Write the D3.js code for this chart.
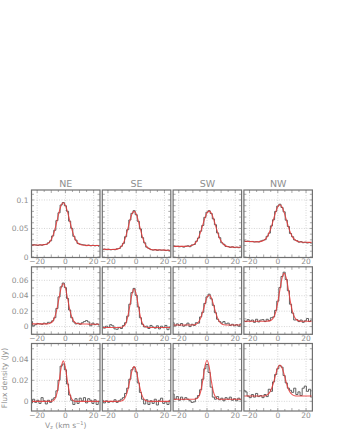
<!DOCTYPE html>
<html>
<head>
<meta charset="utf-8">
<script src="https://cdn.jsdelivr.net/npm/d3@7"></script>
<style>
body{margin:0;background:#fff;}
#canvas{width:342px;height:443px;}
svg{display:block;font-family:"DejaVu Sans",sans-serif;}
</style>
</head>
<body>
<div id="canvas" class="canvas"></div>
<script>
// regions along the top, velocity channels (km/s)
var regions = ['NE','SE','SW','NW'];
var vel = [-24,-22.5,-21,-19.5,-18,-16.5,-15,-13.5,-12,-10.5,-9,-7.5,-6,-4.5,-3,-1.5,0,1.5,3,4.5,6,7.5,9,10.5,12,13.5,15,16.5,18,19.5,21,22.5,24];

var xTicks = [-20,0,20];
var yTicks = [[0,0.05,0.1],[0,0.02,0.04,0.06],[0,0.02,0.04]];
var yDomains = [[-0.001,0.1175],[-0.010,0.0775],[-0.0092,0.055]];

// row 1
var neObs1 = [0.0205,0.0215,0.021,0.0202,0.0212,0.0206,0.0218,0.0221,0.0248,0.0282,0.0368,0.0468,0.0638,0.0775,0.0912,0.0955,0.0898,0.0802,0.0628,0.0502,0.0362,0.0295,0.0235,0.0225,0.0215,0.021,0.0198,0.0208,0.0196,0.0205,0.0195,0.0202,0.0188];
var neFit1 = [0.021,0.021,0.021,0.021,0.021,0.0211,0.0214,0.0223,0.0242,0.0285,0.036,0.0476,0.0627,0.0784,0.0904,0.095,0.0906,0.079,0.064,0.0492,0.037,0.0288,0.024,0.0218,0.0208,0.0204,0.0203,0.0202,0.0201,0.0201,0.020,0.020,0.020];
var seObs1 = [0.013,0.0138,0.0128,0.0135,0.0125,0.0132,0.0127,0.0142,0.0148,0.0188,0.0238,0.0355,0.0478,0.0648,0.0765,0.0812,0.0742,0.0625,0.0492,0.0338,0.0248,0.0172,0.015,0.0128,0.012,0.0129,0.0115,0.0125,0.0118,0.0122,0.0112,0.012,0.0108];
var seFit1 = [0.0135,0.0134,0.0133,0.0132,0.0131,0.0131,0.0132,0.0137,0.0151,0.0183,0.0245,0.0348,0.0486,0.0636,0.0754,0.080,0.0752,0.0634,0.0485,0.0345,0.0242,0.0178,0.0146,0.0132,0.0126,0.0124,0.0123,0.0122,0.0121,0.012,0.0119,0.0118,0.0118];
var swObs1 = [0.019,0.0182,0.0188,0.0178,0.0185,0.0172,0.0188,0.0195,0.018,0.021,0.0218,0.0275,0.0332,0.0452,0.0552,0.0695,0.0785,0.0812,0.0762,0.0668,0.0565,0.0422,0.0338,0.0248,0.0222,0.0185,0.0182,0.0168,0.0178,0.0165,0.0172,0.0162,0.0175];
var swFit1 = [0.0185,0.0185,0.0185,0.0185,0.0185,0.0185,0.0185,0.0187,0.0192,0.0203,0.0226,0.0269,0.0339,0.044,0.0561,0.0682,0.0772,0.0805,0.077,0.0678,0.0555,0.0432,0.0328,0.0257,0.0214,0.0191,0.0179,0.0174,0.0172,0.0171,0.017,0.017,0.017];
var nwObs1 = [0.028,0.0272,0.0278,0.0268,0.0272,0.0262,0.0268,0.0262,0.0278,0.0292,0.0302,0.0362,0.0418,0.0545,0.0652,0.0798,0.0892,0.0925,0.0868,0.0792,0.0645,0.0535,0.0412,0.0355,0.0298,0.0285,0.026,0.0268,0.025,0.0258,0.0245,0.0252,0.024];
var nwFit1 = [0.0275,0.0274,0.0272,0.027,0.0268,0.0266,0.0265,0.0268,0.0273,0.0285,0.0309,0.0354,0.0428,0.0533,0.0661,0.0787,0.0881,0.0915,0.0875,0.0781,0.0655,0.0527,0.0422,0.0348,0.0303,0.028,0.0267,0.0261,0.0258,0.0257,0.0256,0.0255,0.0255];

// row 2
var neObs2 = [0.0065,0.001,0.0025,0.004,0.0035,0.003,0.0045,0.0035,0.0055,0.0055,0.0075,0.0115,0.0235,0.0385,0.0515,0.0565,0.0505,0.0365,0.0215,0.0115,0.006,0.0035,0.0045,0.003,0.005,0.0065,0.0078,0.006,0.001,0.0045,0.0025,0.0035,0.002];
var neFit2 = [0.0035,0.0035,0.0035,0.0035,0.0035,0.0035,0.0035,0.0035,0.0037,0.0045,0.0068,0.0124,0.0228,0.037,0.0501,0.0555,0.0501,0.037,0.0228,0.0124,0.0068,0.0045,0.0037,0.0035,0.0035,0.0034,0.0033,0.0032,0.0031,0.003,0.003,0.003,0.003];
var seObs2 = [-0.001,-0.002,0.0005,-0.001,0.0025,0.001,-0.003,-0.0035,-0.001,-0.0025,0.0015,0.005,0.0135,0.029,0.044,0.0495,0.0405,0.0255,0.0115,0.003,-0.0005,0.0005,-0.0025,0.0015,-0.0005,-0.002,0.001,-0.003,0.0005,-0.0015,0.0015,-0.004,-0.001];
var seFit2 = [-0.0012,-0.0012,-0.0012,-0.0012,-0.0012,-0.0012,-0.0012,-0.0012,-0.0012,-0.0009,0.0002,0.0038,0.0126,0.027,0.0421,0.0488,0.0421,0.027,0.0126,0.0038,0.0002,-0.0009,-0.0012,-0.0012,-0.0012,-0.0012,-0.0012,-0.0012,-0.0012,-0.0012,-0.0012,-0.0012,-0.0012];
var swObs2 = [0.005,0.001,0.0035,0.0015,0.004,0.0005,0.002,0.0045,0,0.003,0.0015,0.005,0.0045,0.0125,0.0185,0.03,0.0385,0.042,0.036,0.0275,0.018,0.0095,0.0065,0.0045,0.0065,0.0035,0.0045,0.0015,0.003,0.001,0.0025,0.0005,0.0035];
var swFit2 = [0.002,0.002,0.002,0.002,0.002,0.002,0.002,0.002,0.002,0.0021,0.0024,0.0034,0.0059,0.011,0.0191,0.029,0.0376,0.041,0.0376,0.029,0.0191,0.011,0.0059,0.0034,0.0024,0.0021,0.002,0.002,0.002,0.002,0.002,0.002,0.002];
var nwObs2 = [0.0075,0.0065,0.009,0.007,0.0085,0.0055,0.0095,0.006,0.0085,0.009,0.0065,0.0095,0.0075,0.0115,0.0125,0.021,0.033,0.0505,0.065,0.0705,0.061,0.0465,0.029,0.0175,0.0085,0.009,0.0065,0.0085,0.0055,0.0075,0.0105,0.0065,0.0085];
var nwFit2 = [0.007,0.007,0.007,0.007,0.007,0.007,0.007,0.007,0.007,0.007,0.007,0.0071,0.0074,0.0085,0.0117,0.0188,0.0315,0.048,0.0629,0.069,0.0629,0.048,0.0315,0.0188,0.0117,0.0085,0.0074,0.007,0.007,0.007,0.007,0.007,0.007];

// row 3
var neObs3 = [-0.0015,0.002,-0.001,0.001,-0.002,0.0035,0.0005,-0.0025,0.001,-0.001,0.002,0.0035,0.01,0.02,0.0335,0.0355,0.03,0.0165,0.006,0.001,-0.003,0.0025,-0.002,0.003,0.0005,0.0035,-0.0015,0.0025,0.001,-0.002,0.0015,-0.003,0];
var neFit3 = [0,0,0,0,0,0,0,0,0,0,0.0004,0.0022,0.0076,0.0187,0.0321,0.0385,0.0321,0.0187,0.0076,0.0022,0.0004,0,0,0,0,0,0,0,0,0,0,0,0];
var seObs3 = [0.001,-0.0015,0.0005,-0.001,0,-0.0005,0.0015,-0.001,0.0005,0.002,0.0035,0.0075,0.0125,0.021,0.03,0.0325,0.028,0.0175,0.0085,0.002,-0.0025,0.0015,-0.003,0.0005,-0.002,0.002,-0.0035,0.001,0.003,-0.002,-0.0005,-0.003,0.001];
var seFit3 = [0,0,0,0,0,0,0,0,0.0001,0.0004,0.0014,0.0045,0.0107,0.02,0.0291,0.033,0.0291,0.02,0.0107,0.0045,0.0014,0.0004,0.0001,0,0,0,0,0,0,0,0,0,0];
var swObs3 = [0.007,0.002,0.0045,0.001,0.004,0.0015,0.0035,0.002,0.0005,-0.001,-0.0005,0.003,0.0055,0.011,0.021,0.031,0.035,0.0275,0.0135,0.004,0.002,0.0045,0.0015,0.003,0.0005,0.0035,0.002,0.004,0.001,0.0025,0.0005,0.003,0.0015];
var swFit3 = [0.002,0.002,0.002,0.002,0.002,0.002,0.002,0.002,0.002,0.002,0.002,0.0024,0.0041,0.0093,0.02,0.0329,0.039,0.0329,0.02,0.0093,0.0041,0.0024,0.002,0.002,0.002,0.002,0.002,0.002,0.002,0.002,0.002,0.002,0.002];
var nwObs3 = [0.0105,0.009,0.005,0.0035,0.0065,0.004,0.0075,0.0045,0.0055,0.0035,0.0065,0.0045,0.0115,0.0095,0.0185,0.0255,0.031,0.034,0.0325,0.0245,0.0175,0.0125,0.0105,0.0085,0.0125,0.0065,0.009,0.0055,0.0125,0.0145,0.0095,0.0115,0.004];
var nwFit3 = [0.005,0.005,0.005,0.005,0.005,0.005,0.005,0.005,0.005,0.005,0.0053,0.0061,0.008,0.0118,0.0179,0.0254,0.0319,0.0345,0.0319,0.0254,0.0179,0.0118,0.008,0.0061,0.0053,0.005,0.005,0.005,0.005,0.005,0.005,0.005,0.005];

var obs = [[neObs1,seObs1,swObs1,nwObs1],[neObs2,seObs2,swObs2,nwObs2],[neObs3,seObs3,swObs3,nwObs3]];
var fit = [[neFit1,seFit1,swFit1,nwFit1],[neFit2,seFit2,swFit2,nwFit2],[neFit3,seFit3,swFit3,nwFit3]];

var W = 342, H = 443;
var pw = 68.5, ph = 67.5,
    colX = [31.5,102.3,173.1,243.9],
    rowY = [190,266.8,343.5];

var svg = d3.select('#canvas')
    .append('svg')
    .attr('width', W)
    .attr('height', H);

var defs = svg.append('defs');
var frameCol = '#707070', labCol = '#8e8e8e';

rowY.forEach(function(py, r){
  var y = d3.scaleLinear().domain(yDomains[r]).range([py+ph, py]);
  var yMinor = d3.range(Math.ceil(yDomains[r][0]*100)/100, yDomains[r][1], 0.01);

  regions.forEach(function(reg, c){
    var px = colX[c];
    var x = d3.scaleLinear().domain([-24,24.5]).range([px, px+pw]);
    var g = svg.append('g').attr('class','panel');
    var id = 'clip'+r+c;
    defs.append('clipPath').attr('id', id)
      .append('rect').attr('x',px).attr('y',py).attr('width',pw).attr('height',ph);

    // dotted grid
    g.selectAll('.gx').data(xTicks).enter().append('line')
      .attr('x1',x).attr('x2',x).attr('y1',py).attr('y2',py+ph)
      .style('stroke','#b8b8b8').style('stroke-width',0.6).style('stroke-dasharray','1,1.5');
    g.selectAll('.gy').data(yTicks[r].filter(function(t){return t>yDomains[r][0]+0.002;})).enter().append('line')
      .attr('x1',px).attr('x2',px+pw).attr('y1',y).attr('y2',y)
      .style('stroke','#b8b8b8').style('stroke-width',0.6).style('stroke-dasharray','1,1.5');

    // minor ticks, inside the frame
    var xMinor = [-20,-15,-10,-5,0,5,10,15,20];
    xMinor.forEach(function(t){
      var len = t % 10 === 0 ? 3 : 2;
      g.append('line').attr('x1',x(t)).attr('x2',x(t)).attr('y1',py+ph).attr('y2',py+ph-len)
        .style('stroke',frameCol).style('stroke-width',0.6);
      g.append('line').attr('x1',x(t)).attr('x2',x(t)).attr('y1',py).attr('y2',py+len)
        .style('stroke',frameCol).style('stroke-width',0.6);
    });
    yMinor.forEach(function(t){
      g.append('line').attr('x1',px).attr('x2',px+2.5).attr('y1',y(t)).attr('y2',y(t))
        .style('stroke',frameCol).style('stroke-width',0.6);
      g.append('line').attr('x1',px+pw).attr('x2',px+pw-2.5).attr('y1',y(t)).attr('y2',y(t))
        .style('stroke',frameCol).style('stroke-width',0.6);
    });

    var lineObs = d3.line()
      .x(function(d,i){return x(vel[i]);})
      .y(function(d){return y(d);})
      .curve(d3.curveStep);
    var lineFit = d3.line()
      .x(function(d,i){return x(vel[i]);})
      .y(function(d){return y(d);})
      .curve(d3.curveMonotoneX);

    var data = g.append('g').attr('clip-path','url(#'+id+')');
    data.append('path').datum(obs[r][c]).attr('d',lineObs)
      .style('fill','none').style('stroke','#505050').style('stroke-width',0.9);
    data.append('path').datum(fit[r][c]).attr('d',lineFit)
      .style('fill','none').style('stroke','#e83a3a').style('stroke-width',1.1).style('opacity',0.85);

    // frame
    g.append('rect').attr('x',px).attr('y',py).attr('width',pw).attr('height',ph)
      .style('fill','none').style('stroke',frameCol).style('stroke-width',1.2);

    // x tick labels
    g.selectAll('.xl').data(xTicks).enter().append('text')
      .attr('x',x).attr('y',py+ph+6.5)
      .attr('text-anchor','middle')
      .style('font-size','7.5px').style('fill',labCol)
      .text(d3.format(''));

    if (c === 0) {
      g.selectAll('.yl').data(yTicks[r]).enter().append('text')
        .attr('x',px-3).attr('y',function(d){return y(d)+2.6;})
        .attr('text-anchor','end')
        .style('font-size','7.5px').style('fill',labCol)
        .text(function(d){return String(d);});
    }
    if (r === 0) {
      g.append('text').attr('x',px+pw/2).attr('y',py-3)
        .attr('text-anchor','middle')
        .style('font-size','9.5px').style('fill',labCol)
        .text(reg);
    }
  });
});

// axis titles
var xt = svg.append('text')
  .attr('x', colX[0]+pw/2).attr('y', 427.5)
  .attr('text-anchor','middle')
  .style('font-size','7.5px').style('fill',labCol);
xt.append('tspan').text('V');
xt.append('tspan').attr('dy',1.5).style('font-size','5px').text('z');
xt.append('tspan').attr('dy',-1.5).text(' (km s');
xt.append('tspan').attr('dy',-3).style('font-size','5px').text('\u22121');
xt.append('tspan').attr('dy',3).text(')');

svg.append('text')
  .attr('transform','translate(7,378) rotate(-90)')
  .attr('text-anchor','middle')
  .style('font-size','7.5px').style('fill',labCol)
  .text('Flux density (Jy)');
</script>
</body>
</html>
